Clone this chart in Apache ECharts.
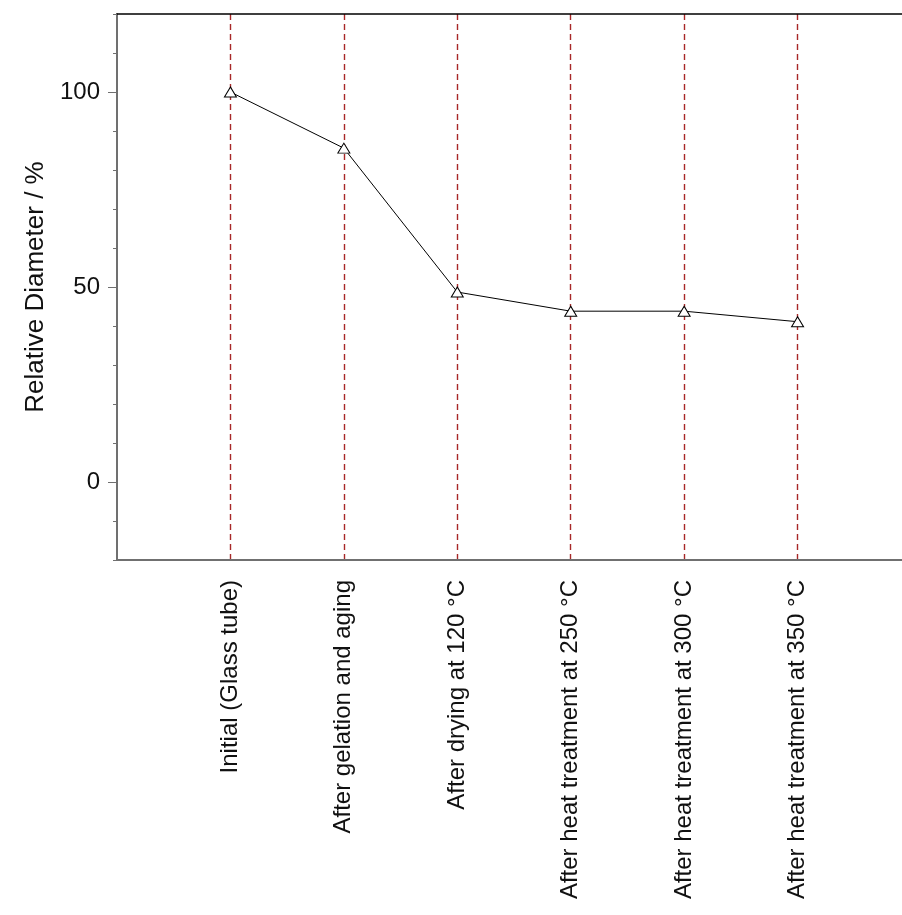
<!DOCTYPE html>
<html>
<head>
<meta charset="utf-8">
<script src="https://cdn.jsdelivr.net/npm/echarts@6/dist/echarts.min.js"></script>
<style>html,body{margin:0;padding:0;background:#fff;}#c{width:902px;height:915px;}</style>
</head>
<body>
<div id="c"></div>
<script>
const categories = ['Initial (Glass tube)', 'After gelation and aging', 'After drying at 120 °C', 'After heat treatment at 250 °C', 'After heat treatment at 300 °C', 'After heat treatment at 350 °C'];
const relativeDiameter = [100, 85.6, 48.7, 43.8, 43.8, 41.1];
const yTickLabels = [0, 50, 100];

const chart = echarts.init(document.getElementById('c'));
const font = 'Liberation Sans, Arial, sans-serif';
chart.setOption({
  animation: false,
  backgroundColor: '#fff',
  grid: { left: 117, top: 14, width: 794, height: 546, containLabel: false, outerBoundsMode: 'none' },
  xAxis: [{
    type: 'value', min: 0, max: categories.length + 1, interval: 1,
    axisLine: { show: true, onZero: false, lineStyle: { color: '#707070', width: 2 } },
    axisTick: { show: false },
    axisLabel: {
      rotate: 90, margin: 20, fontSize: 24, fontFamily: font, color: '#111',
      formatter: v => categories[v - 1] || ''
    },
    splitLine: { show: true, showMinLine: false, showMaxLine: false,
      lineStyle: { color: '#a82828', type: [6, 4], width: 1.4 } }
  }, {
    type: 'value', position: 'top', min: 0, max: categories.length + 1,
    axisLine: { show: true, onZero: false, lineStyle: { color: '#000', width: 1.5 } },
    axisTick: { show: false }, axisLabel: { show: false }, splitLine: { show: false }
  }],
  yAxis: [{
    type: 'value', min: -20, max: 120, interval: 10,
    name: 'Relative Diameter / %', nameLocation: 'middle', nameGap: 68,
    nameTextStyle: { fontSize: 26, fontFamily: font, color: '#111' },
    axisLine: { show: true, onZero: false, lineStyle: { color: '#707070', width: 2 } },
    axisTick: { show: true, length: 9, customValues: yTickLabels, lineStyle: { color: '#707070', width: 1 } },
    axisLabel: { margin: 17, fontSize: 24, fontFamily: font, color: '#111', customValues: yTickLabels },
    splitLine: { show: false }
  }, {
    type: 'value', position: 'left', min: -20, max: 120, interval: 10,
    axisLine: { show: false, onZero: false },
    axisTick: { show: true, length: 4, lineStyle: { color: '#707070', width: 1 } },
    axisLabel: { show: false }, splitLine: { show: false }
  }],
  series: [{
    type: 'line',
    data: relativeDiameter.map((v, i) => [i + 1, v]),
    symbol: 'triangle', symbolSize: [12, 10],
    lineStyle: { color: '#000', width: 1 },
    itemStyle: { color: '#fff', borderColor: '#000', borderWidth: 1 },
    z: 5
  }]
});
</script>
</body>
</html>
